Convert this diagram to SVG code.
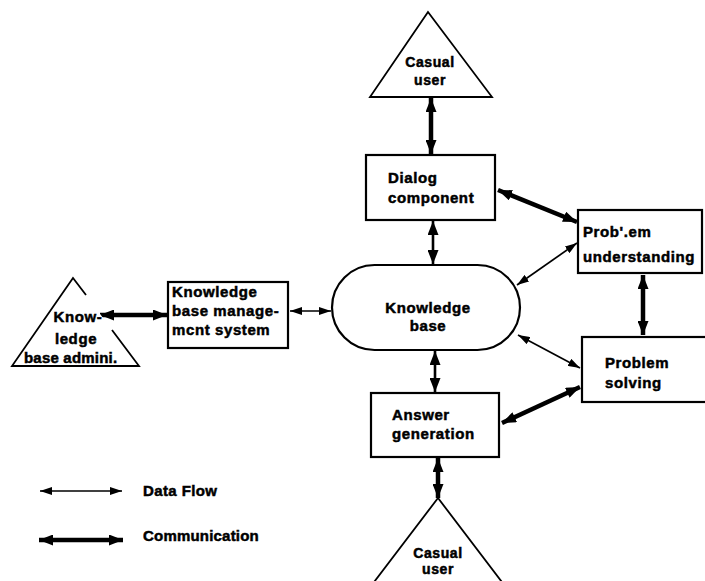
<svg xmlns="http://www.w3.org/2000/svg" width="705" height="581" viewBox="0 0 705 581">
  <style>
    .box { fill: #fff; stroke: #000; stroke-width: 2.2; }
    .tri { fill: #fff; stroke: #000; stroke-width: 1.8; stroke-linejoin: miter; }
    .lbl { font-family: "Liberation Sans", Arial, sans-serif; font-weight: bold; font-size: 15px; letter-spacing: 0.6px; fill: #000; stroke: #000; stroke-width: 0.5px; }
    .mid { text-anchor: middle; }
    .flow { stroke: #000; stroke-width: 1.7; fill: none; marker-start: url(#headThin); marker-end: url(#headThin); }
    .comm { stroke: #000; stroke-width: 4.5; fill: none; marker-start: url(#headThick); marker-end: url(#headThick); }
    .link { stroke: #000; stroke-width: 2.6; fill: none; marker-start: url(#headThick); marker-end: url(#headThick); }
  </style>
  <defs>
    <marker id="headThin" markerUnits="userSpaceOnUse" viewBox="0 0 12 8" refX="12" refY="4" markerWidth="12" markerHeight="8" orient="auto-start-reverse">
      <path d="M0,0 L12,4 L0,8 z" fill="#000"/>
    </marker>
    <marker id="headThick" markerUnits="userSpaceOnUse" viewBox="0 0 14 11" refX="14" refY="5.5" markerWidth="14" markerHeight="11" orient="auto-start-reverse">
      <path d="M0,0 L14,5.5 L0,11 z" fill="#000"/>
    </marker>
  </defs>

  <rect width="705" height="581" fill="#fff"/>

  <!-- connectors -->
  <g id="connectors">
    <line class="comm" x1="431" y1="98" x2="431" y2="154"/>
    <line class="link" x1="433" y1="221" x2="433" y2="264"/>
    <line class="comm" x1="498" y1="190" x2="577" y2="222"/>
    <line class="flow" x1="517" y1="285" x2="577" y2="243"/>
    <line class="comm" x1="643" y1="275" x2="643" y2="335"/>
    <line class="flow" x1="518" y1="335" x2="580" y2="368"/>
    <line class="link" x1="435" y1="351" x2="435" y2="392"/>
    <line class="comm" x1="502" y1="423" x2="580" y2="387"/>
    <line class="comm" x1="438" y1="458" x2="438" y2="498"/>
    <line class="comm" x1="100" y1="315" x2="167" y2="315"/>
    <line class="flow" x1="290" y1="311" x2="331" y2="311"/>
  </g>

  <!-- top user -->
  <g id="casual-user-top">
    <polygon class="tri" points="428,12 370,97 492,97"/>
    <text class="lbl mid" x="430" y="67" style="font-size:14px">Casual</text>
    <text class="lbl mid" x="430" y="85" style="font-size:14px">user</text>
  </g>

  <g id="dialog-component">
    <rect class="box" x="366" y="155" width="129" height="65"/>
    <text class="lbl" x="388" y="183">Dialog</text>
    <text class="lbl" x="388" y="203">component</text>
  </g>

  <g id="problem-understanding">
    <rect class="box" x="578" y="210" width="124" height="63"/>
    <text class="lbl" x="583" y="237">Prob'.em</text>
    <text class="lbl" x="583" y="262">understanding</text>
  </g>

  <g id="knowledge-base">
    <rect class="box" x="332" y="265" width="188" height="85" rx="42.5" ry="42.5"/>
    <text class="lbl mid" x="428" y="313">Knowledge</text>
    <text class="lbl mid" x="428" y="331">base</text>
  </g>

  <g id="problem-solving">
    <rect class="box" x="582" y="337" width="130" height="65"/>
    <text class="lbl" x="605" y="368">Problem</text>
    <text class="lbl" x="605" y="388">solving</text>
  </g>

  <g id="answer-generation">
    <rect class="box" x="371" y="393" width="128" height="64"/>
    <text class="lbl" x="392" y="420">Answer</text>
    <text class="lbl" x="392" y="439">generation</text>
  </g>

  <g id="kb-management-system">
    <rect class="box" x="168" y="282" width="120" height="66"/>
    <text class="lbl" x="172" y="297">Knowledge</text>
    <text class="lbl" x="172" y="316">base manage-</text>
    <text class="lbl" x="172" y="335">mcnt system</text>
  </g>

  <!-- administrator: right side broken where the label and arrow cross it -->
  <g id="kb-admin">
    <path class="tri" fill="none" d="M86,295 L73,278 L12,366 L139,366 L112,330"/>
    <text class="lbl mid" x="78" y="322">Know-</text>
    <text class="lbl mid" x="76" y="344">ledge</text>
    <text class="lbl" x="24" y="363" style="letter-spacing:0.2px">base admini.</text>
  </g>

  <g id="casual-user-bottom">
    <polygon class="tri" points="438,498 368,590 508,590"/>
    <text class="lbl mid" x="438" y="558" style="font-size:14px">Casual</text>
    <text class="lbl mid" x="438" y="574" style="font-size:14px">user</text>
  </g>

  <!-- legend -->
  <g id="legend">
    <line class="flow" x1="40" y1="491" x2="122" y2="491"/>
    <text class="lbl" x="143" y="496" style="letter-spacing:0.4px">Data Flow</text>
    <line class="comm" x1="39" y1="540" x2="123" y2="540"/>
    <text class="lbl" x="143" y="541" style="letter-spacing:0.2px">Communication</text>
  </g>
</svg>
